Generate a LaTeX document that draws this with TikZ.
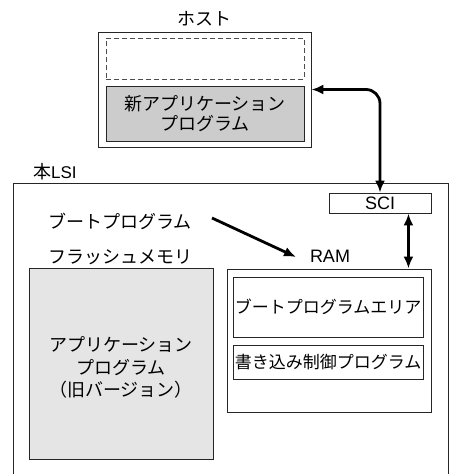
\documentclass[tikz,border=0pt]{standalone}
\usepackage{fontspec}
\setmainfont{Noto Sans CJK JP}
\newfontfamily\latinsf{Liberation Sans}
\usetikzlibrary{arrows.meta,calc}
\begin{document}
\begin{tikzpicture}[x=1pt,y=-1pt,
  font=\fontsize{18}{20}\selectfont,
  box/.style={draw=black!85, line width=0.9pt, rectangle, inner sep=0pt},
  lbl/.style={inner sep=0pt},
  thick arrow/.style={line width=2.8pt},
  tipend/.style={-{Latex[length=12pt,width=10pt]}},
  tipboth/.style={{Latex[length=12pt,width=10pt]}-{Latex[length=12pt,width=10pt]}}]
\useasboundingbox (0,0) rectangle (449,474);
% host
\node[lbl] (hostlbl) at (204,19) {ホスト};
\node[box, minimum width=213pt, minimum height=115pt] (host) at (204.5,89.5) {};
\node[box, dash pattern=on 5pt off 3pt, draw=black!70, minimum width=198pt, minimum height=41pt] (blank) at (205,58.5) {};
\node[box, fill=gray!40, minimum width=198pt, minimum height=55pt, align=center] (newapp) at (205,113.5) {新アプリケーション\\プログラム};
% LSI
\draw[draw=black!85, line width=0.9pt] (13,474) -- (13,183) -- (448,183) -- (448,474);
\node[lbl, anchor=west] (lsilbl) at (33,172) {本{\latinsf\fontsize{17}{20}\selectfont LSI}};
\node[box, minimum width=102pt, minimum height=20pt, font=\latinsf\fontsize{18}{20}\selectfont] (sci) at (380,203) {SCI};
\node[lbl] (bootlbl) at (120,221) {ブートプログラム};
\node[lbl] (flashlbl) at (120,257) {フラッシュメモリ};
\node[lbl, font=\latinsf\fontsize{18}{20}\selectfont] (ramlbl) at (330,256) {RAM};
\node[box, fill=gray!20, minimum width=184pt, minimum height=191pt] (flash) at (121,363.5) {};
\node[lbl, align=center, font=\fontsize{18}{22.5}\selectfont] (flashtxt) at (121,367.5) {アプリケーション\\プログラム\\（旧バージョン）};
\node[box, minimum width=204pt, minimum height=143pt] (ram) at (329,340.5) {};
\node[box, minimum width=190pt, minimum height=60pt, font=\fontsize{17}{20}\selectfont] (bootarea) at (328,307) {ブートプログラムエリア};
\node[box, minimum width=190pt, minimum height=34pt, font=\fontsize{17}{20}\selectfont] (wctl) at (328,362) {書き込み制御プログラム};
% arrows
\draw[thick arrow, tipboth, rounded corners=14pt] (host.east) -| (sci.north);
\draw[thick arrow, tipboth] ($(sci.south east)+(-23,0)$) -- ($(ram.north east)+(-23,0)$);
\coordinate (bpa) at (212,218);
\coordinate (bpb) at (296,257);
\draw[thick arrow, tipend] (bpa) -- (bpb);
\end{tikzpicture}
\end{document}
